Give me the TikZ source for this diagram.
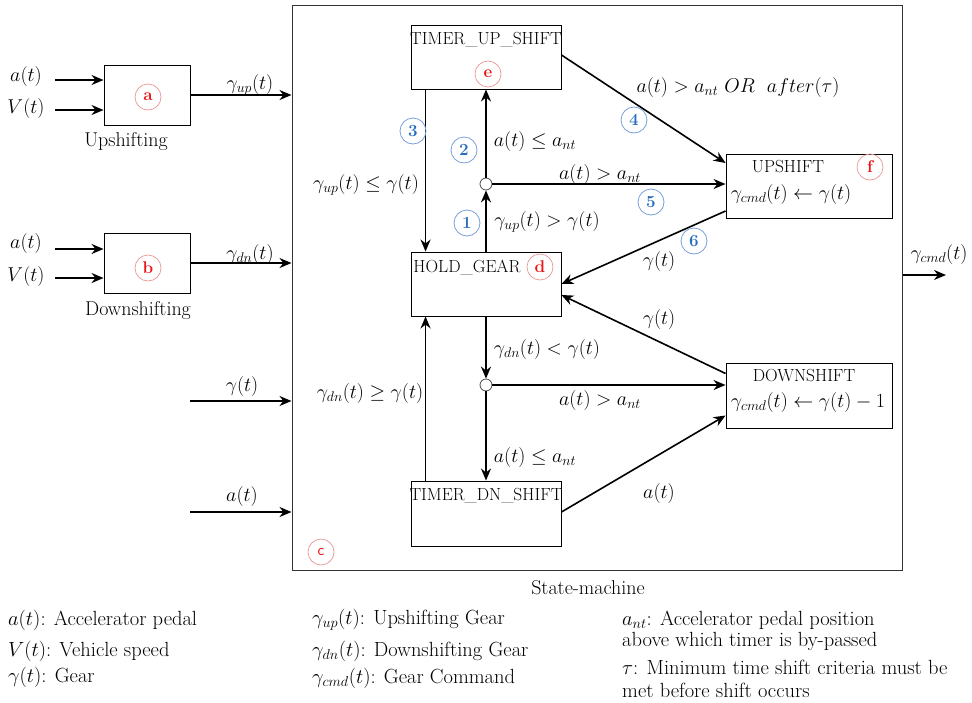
\RequirePackage{fix-cm}
\documentclass[tikz,border=0pt]{standalone}
\usetikzlibrary{arrows.meta}
\definecolor{tagred}{RGB}{235,20,20}
\definecolor{tagredline}{RGB}{232,150,150}
\definecolor{tagblue}{RGB}{40,110,190}
\definecolor{tagblueline}{RGB}{120,160,220}
\begin{document}
\begin{tikzpicture}[x=1pt,y=-1pt,
  every node/.style={inner sep=0pt},
  txt/.style={font=\fontsize{20}{23}\selectfont},
  caps/.style={font=\fontsize{17.5}{20}\selectfont},
  lgd/.style={font=\fontsize{20.5}{23}\selectfont, anchor=west},
  mth/.style={font=\fontsize{20}{24}\selectfont},
  blk/.style={draw, line width=0.9pt, minimum width=#1},
  statebox/.style={draw, line width=0.9pt, minimum width=150pt, minimum height=64pt},
  junc/.style={circle, draw=black!70, fill=white, line width=0.8pt, minimum size=12pt},
  redtag/.style={circle, draw=tagredline, line width=0.7pt, text=tagred, minimum size=26pt,
    font=\fontsize{17}{18}\selectfont\bfseries},
  bluetag/.style={circle, draw=tagblueline, line width=0.8pt, text=tagblue, minimum size=26pt,
    font=\fontsize{17}{18}\selectfont\bfseries},
  flow/.style={line width=1.6pt, -{Stealth[length=12pt,width=10pt]}}]
\useasboundingbox (0,0) rectangle (972,702);

% state-machine frame
\node[draw=black!80, line width=1pt, minimum width=610pt, minimum height=565pt] (sm) at (597,287.5) {};
\node[txt] (smlbl) at (588,588) {State-machine};
\node[redtag, font=\fontsize{16}{17}\selectfont\sffamily] (tc) at (321,552) {c};

% shifting-schedule blocks
\node[blk=86pt, minimum height=60pt] (ba) at (147,95) {};
\node[blk=86pt, minimum height=60pt] (bb) at (147,263) {};
\node[redtag] (ta) at (148,97) {a};
\node[redtag] (tb) at (148,268) {b};
\node[txt] (upl) at (126,142) {Upshifting};
\node[txt] (dnl) at (138,311) {Downshifting};

% block inputs
\coordinate (ia1) at (55,80);
\coordinate (iv1) at (55,110);
\coordinate (ia2) at (55,249);
\coordinate (iv2) at (55,278);
\node[mth] (la1) at (26,76) {$a(t)$};
\node[mth] (lv1) at (26,108) {$V(t)$};
\node[mth] (la2) at (26,243) {$a(t)$};
\node[mth] (lv2) at (26,276) {$V(t)$};
\draw[flow] (ia1) -- (ia1 -| ba.west);
\draw[flow] (iv1) -- (iv1 -| ba.west);
\draw[flow] (ia2) -- (ia2 -| bb.west);
\draw[flow] (iv2) -- (iv2 -| bb.west);

% block outputs into the state machine
\draw[flow] (ba.east) -- (ba.east -| sm.west);
\draw[flow] (bb.east) -- (bb.east -| sm.west);
\node[mth] (lgu) at (250,85) {$\gamma_{up}(t)$};
\node[mth] (lgd) at (250,254) {$\gamma_{dn}(t)$};

% direct inputs
\coordinate (ig) at (190,401);
\coordinate (iat) at (190,512);
\draw[flow] (ig) -- (ig -| sm.west);
\draw[flow] (iat) -- (iat -| sm.west);
\node[mth] (lg) at (242,386) {$\gamma(t)$};
\node[mth] (lat) at (242,496) {$a(t)$};

% output
\coordinate (oc) at (946,275);
\draw[flow] (oc -| sm.east) -- (oc);
\node[mth] (lgc) at (939,254) {$\gamma_{cmd}(t)$};

% states
\node[statebox] (tup) at (486,57) {};
\node[statebox] (hold) at (486,284) {};
\node[statebox, minimum height=65pt] (tdn) at (486,513.5) {};
\node[draw, line width=0.9pt, minimum width=166pt, minimum height=64pt] (ups) at (809,186) {};
\node[draw, line width=0.9pt, minimum width=166pt, minimum height=65pt] (dns) at (809,395.5) {};

\node[caps] (tupT) at (486,40) {TIMER\_UP\_SHIFT};
\node[caps] (holdT) at (467,267) {HOLD\_GEAR};
\node[caps] (tdnT) at (486,496) {TIMER\_DN\_SHIFT};
\node[caps] (upsT) at (788,167) {UPSHIFT};
\node[mth] (upsA) at (791,194) {$\gamma_{cmd}(t) \leftarrow \gamma(t)$};
\node[caps] (dnsT) at (804,376) {DOWNSHIFT};
\node[mth] (dnsA) at (808,402) {$\gamma_{cmd}(t) \leftarrow \gamma(t) - 1$};

\node[redtag] (te) at (488,74) {e};
\node[redtag] (td) at (540,267) {d};
\node[redtag] (tf) at (870,167) {f};

% junctions
\node[junc] (j1) at (486,184) {};
\node[junc] (j2) at (486,385) {};

% upshift path
\draw[flow] (hold.north -| j1) -- (j1);
\draw[flow] (j1) -- (j1 |- tup.south);
\draw[flow] ([xshift=15pt]tup.south west) -- ([xshift=15pt]hold.north west);
\draw[flow] ([yshift=2pt]tup.east) -- ([yshift=23pt]ups.west);
\draw[flow] (j1) -- (j1 -| ups.west);
\draw[flow] ([yshift=-25pt]ups.west) -- (hold.east);

% downshift path
\draw[flow] (hold.south -| j2) -- (j2);
\draw[flow] (j2) -- (j2 |- tdn.north);
\draw[flow] ([xshift=15pt]tdn.north west) -- ([xshift=15pt]hold.south west);
\draw[flow] (j2) -- (j2 -| dns.west);
\draw[flow] ([yshift=22pt]dns.west) -- ([yshift=-11pt]hold.east);
\draw[flow] ([yshift=1.5pt]tdn.east) -- ([yshift=-20pt]dns.west);

% transition conditions
\node[mth] (c1) at (547,222) {$\gamma_{up}(t) > \gamma(t)$};
\node[mth] (c2) at (535,141) {$a(t) \leq a_{nt}$};
\node[mth] (c3) at (366,185) {$\gamma_{up}(t) \leq \gamma(t)$};
\node[mth] (c4) at (738,87) {$a(t) > a_{nt}\ OR\ \ after(\tau)$};
\node[mth] (c5) at (600,174) {$a(t) > a_{nt}$};
\node[mth] (c6) at (659,261) {$\gamma(t)$};
\node[mth] (c7) at (659,319) {$\gamma(t)$};
\node[mth] (c8) at (547,349) {$\gamma_{dn}(t) < \gamma(t)$};
\node[mth] (c9) at (370,393) {$\gamma_{dn}(t) \geq \gamma(t)$};
\node[mth] (c10) at (600,400) {$a(t) > a_{nt}$};
\node[mth] (c11) at (535,457) {$a(t) \leq a_{nt}$};
\node[mth] (c12) at (659,493) {$a(t)$};

% transition numbers
\node[bluetag] (n1) at (467,223) {1};
\node[bluetag] (n2) at (464,150) {2};
\node[bluetag] (n3) at (413,131) {3};
\node[bluetag] (n4) at (634,120) {4};
\node[bluetag] (n5) at (651,202) {5};
\node[bluetag] (n6) at (694,241) {6};

% legend
\node[lgd] (g1) at (8,620) {$a(t)$: Accelerator pedal};
\node[lgd] (g2) at (8,651) {$V(t)$: Vehicle speed};
\node[lgd] (g3) at (8,677) {$\gamma(t)$: Gear};
\node[lgd] (g4) at (312,620) {$\gamma_{up}(t)$: Upshifting Gear};
\node[lgd] (g5) at (312,651) {$\gamma_{dn}(t)$: Downshifting Gear};
\node[lgd] (g6) at (312,678) {$\gamma_{cmd}(t)$: Gear Command};
\node[lgd] (g7) at (622,620) {$a_{nt}$: Accelerator pedal position};
\node[lgd] (g8) at (622,641) {above which timer is by-passed};
\node[lgd] (g9) at (622,667) {$\tau$: Minimum time shift criteria must be};
\node[lgd] (g10) at (622,690) {met before shift occurs};
\end{tikzpicture}
\end{document}
